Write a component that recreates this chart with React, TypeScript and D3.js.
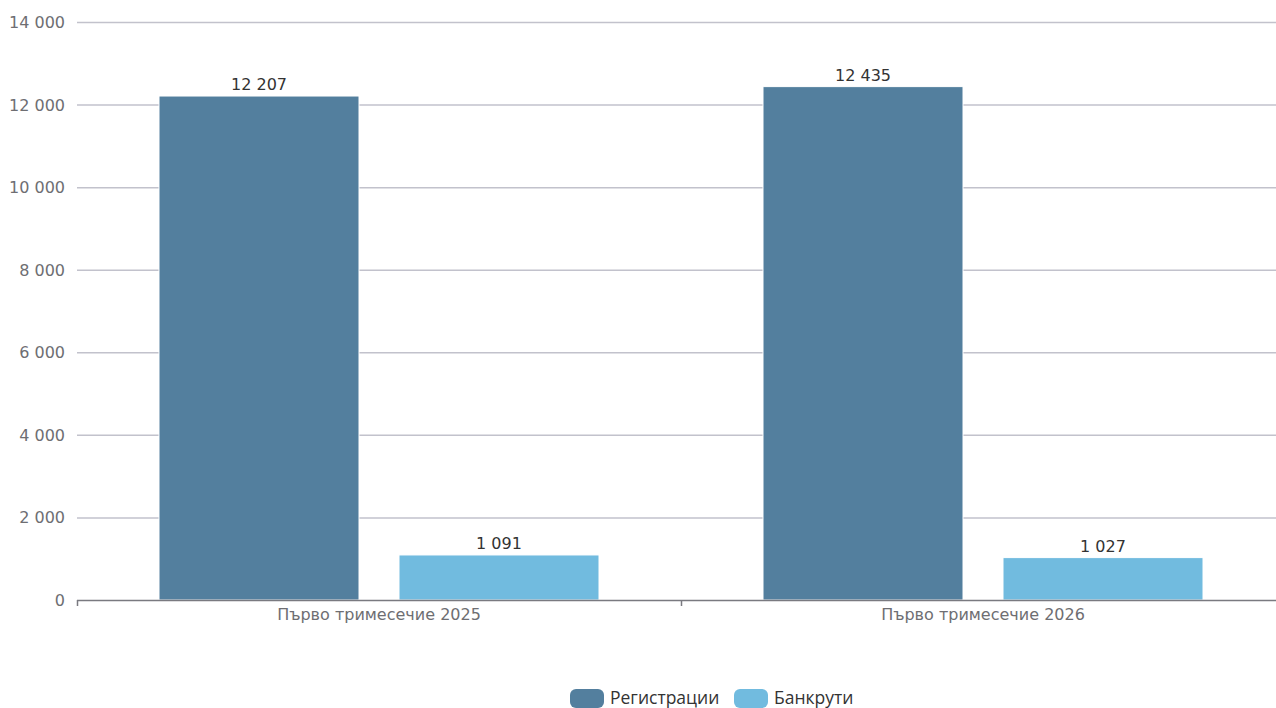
import React from "react";
import * as d3 from "d3";

const categories = ["Първо тримесечие 2025", "Първо тримесечие 2026"];
const seriesNames = ["Регистрации", "Банкрути"];
const registrations = [12207, 12435];
const bankruptcies = [1091, 1027];
const seriesColors = ["#537f9e", "#71bbdf"];
const yTicks = [0, 2000, 4000, 6000, 8000, 10000, 12000, 14000];

const W = 1276;
const H = 708;
const fmt = (v: number) => d3.format(",")(v).replace(/,/g, "\u00a0");

export default function App() {
  const left = 77;
  const right = 1276;
  const top = 22;
  const bottom = 600;
  const y = d3.scaleLinear().domain([0, 14000]).range([bottom, top]);
  const x = d3.scaleBand().domain(categories).range([left, left + 604 * 2]).paddingInner(0).paddingOuter(0);
  const inner = d3
    .scaleBand()
    .domain(seriesNames)
    .range([0, x.bandwidth()])
    .paddingInner(40 / 240)
    .paddingOuter(82 / 240);
  const values = [registrations, bankruptcies];

  return (
    <svg width={W} height={H} style={{ position: "absolute", left: 0, top: 0 }}>
      {yTicks.map((t) => (
        <g key={t}>
          {t > 0 && (
            <line x1={left} x2={right} y1={y(t) + 0.5} y2={y(t) + 0.5} stroke="#c2c2cc" strokeWidth={1.5} />
          )}
          <text x={65} y={y(t) + 6} textAnchor="end" fontFamily="DejaVu Sans" fontSize={16} fill="#6e6e72">
            {fmt(t)}
          </text>
        </g>
      ))}
      {categories.map((c, ci) =>
        seriesNames.map((s, si) => {
          const v = values[si][ci];
          const bx = (x(c) as number) + (inner(s) as number);
          const bw = inner.bandwidth();
          return (
            <g key={c + s}>
              <rect x={bx} y={y(v)} width={bw} height={bottom - y(v)} fill={seriesColors[si]} stroke="#ffffff" strokeWidth={1} />
              <text
                x={bx + bw / 2}
                y={y(v) - 6}
                textAnchor="middle"
                fontFamily="DejaVu Sans"
                fontSize={16}
                fill="#333"
                stroke="#fff"
                strokeWidth={3}
                paintOrder="stroke"
                strokeLinejoin="round"
              >
                {fmt(v)}
              </text>
            </g>
          );
        })
      )}
      <line x1={left} x2={right} y1={bottom + 0.5} y2={bottom + 0.5} stroke="#7a7a80" strokeWidth={1.5} />
      {[left, left + 604].map((tx) => (
        <line key={tx} x1={tx + 0.5} x2={tx + 0.5} y1={bottom} y2={bottom + 6} stroke="#7a7a80" strokeWidth={1.5} />
      ))}
      {categories.map((c) => (
        <text
          key={c}
          x={(x(c) as number) + x.bandwidth() / 2}
          y={620}
          textAnchor="middle"
          fontFamily="DejaVu Sans"
          fontSize={16}
          fill="#6e6e72"
        >
          {c}
        </text>
      ))}
      <g>
        {[
          { x: 570, label: seriesNames[0], color: seriesColors[0] },
          { x: 734, label: seriesNames[1], color: seriesColors[1] },
        ].map((l) => (
          <g key={l.label}>
            <rect x={l.x} y={689} width={34} height={19} rx={6} fill={l.color} />
            <text x={l.x + 40} y={704} fontFamily="Open Sans" fontSize={17.5} fill="#333">
              {l.label}
            </text>
          </g>
        ))}
      </g>
    </svg>
  );
}
